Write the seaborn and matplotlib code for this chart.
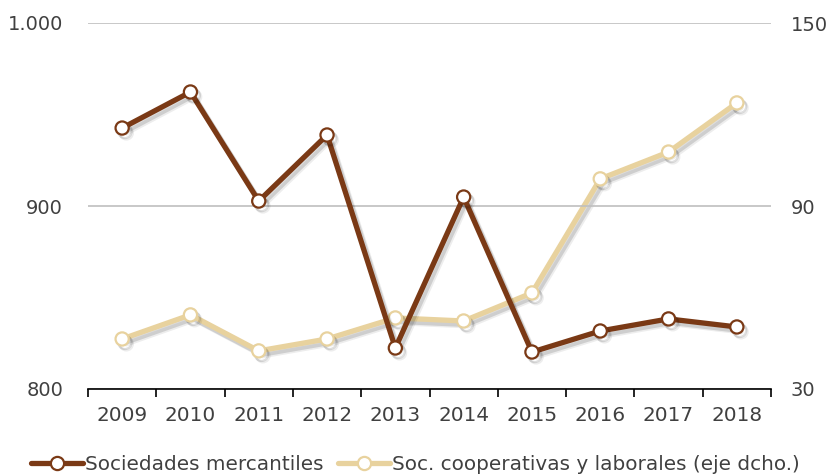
import matplotlib
matplotlib.use("Agg")
import matplotlib.pyplot as plt
import matplotlib.patheffects as pe
from matplotlib.lines import Line2D
import numpy as np
import pandas as pd
import seaborn as sns

years = ["2009", "2010", "2011", "2012", "2013", "2014", "2015", "2016", "2017", "2018"]
mercantiles = [942.6, 962.3, 902.7, 938.8, 822.4, 904.9, 820.2, 831.7, 838.3, 833.9]
cooperativas = [46.4, 54.3, 42.5, 46.4, 53.3, 52.3, 61.5, 98.9, 107.7, 123.8]

left_ticks = [800, 900, 1000]
left_labels = ["800", "900", "1.000"]
right_ticks = [30, 90, 150]
right_labels = ["30", "90", "150"]

label_merc = "Sociedades mercantiles"
label_coop = "Soc. cooperativas y laborales (eje dcho.)"

brown = "#7A3915"
beige = "#E8D29E"
text_color = "#404040"
fs = 14.4
fs_y = 14

sns.set_theme(style="white")
plt.rcParams["font.family"] = ["DejaVu Sans"]

df = pd.DataFrame({"pos": np.arange(len(years)), "merc": mercantiles, "coop": cooperativas})

fig = plt.figure(figsize=(8.31, 4.75), dpi=100)
ax = fig.add_axes([88 / 831, 1 - 389 / 475, (771 - 88) / 831, (389 - 23) / 475])
ax2 = ax.twinx()

shadow = [pe.SimpleLineShadow(offset=(2, -2.5), shadow_color="#000000", alpha=0.13),
          pe.SimpleLineShadow(offset=(3, -3.5), shadow_color="#000000", alpha=0.07),
          pe.Normal()]
line_kw = dict(linewidth=3.8, marker="o", markersize=9.5, markerfacecolor="white",
               markeredgewidth=1.6, legend=False)

sns.lineplot(data=df, x="pos", y="coop", ax=ax2, color=beige, markeredgecolor=beige, **line_kw)
sns.lineplot(data=df, x="pos", y="merc", ax=ax, color=brown, markeredgecolor=brown, **line_kw)
for a in (ax, ax2):
    for ln in a.get_lines():
        ln.set_path_effects(shadow)

# brown series drawn above the beige one
ax.set_zorder(ax2.get_zorder() + 1)
ax.patch.set_visible(False)

ax.set_xlim(-0.5, len(years) - 0.5)
ax.set_ylim(800, 1000)
ax2.set_ylim(30, 150)

ax.set_yticks(left_ticks)
ax.set_yticklabels(left_labels)
ax2.set_yticks(right_ticks)
ax2.set_yticklabels(right_labels)
ax.tick_params(axis="y", length=0, labelsize=fs_y, labelcolor=text_color, pad=18)
ax2.tick_params(axis="y", length=0, labelsize=fs_y, labelcolor=text_color, pad=14)
for a in (ax, ax2):
    for s in a.spines.values():
        s.set_visible(False)
    a.set_xlabel("")
    a.set_ylabel("")

ax.yaxis.grid(True, color="#BFBFBF", linewidth=1.2)
ax.set_axisbelow(True)
ax2.grid(False)

ax.spines["bottom"].set_visible(True)
ax.spines["bottom"].set_color("#000000")
ax.spines["bottom"].set_linewidth(1.2)

ax.set_xticks(np.arange(len(years)))
ax.set_xticklabels(years)
ax.set_xticks(np.arange(len(years) + 1) - 0.5, minor=True)
ax.tick_params(axis="x", which="major", length=0, labelsize=fs, labelcolor=text_color, pad=12)
ax.tick_params(axis="x", which="minor", direction="out", length=6, width=1.2, color="#000000", bottom=True)
ax2.tick_params(axis="x", bottom=False, labelbottom=False)

handles = [
    Line2D([], [], color=brown, linewidth=3.8, marker="o", markersize=9.5,
           markerfacecolor="white", markeredgecolor=brown, markeredgewidth=1.6),
    Line2D([], [], color=beige, linewidth=3.8, marker="o", markersize=9.5,
           markerfacecolor="white", markeredgecolor=beige, markeredgewidth=1.6),
]
fig.legend(handles, [label_merc, label_coop], loc="center", bbox_to_anchor=(0.5, 1 - 464 / 475),
           ncol=2, frameon=False, fontsize=fs, labelcolor=text_color, handlelength=2.6,
           handletextpad=0.1, columnspacing=0.75, borderpad=0)

fig.savefig("out.png", dpi=100)
